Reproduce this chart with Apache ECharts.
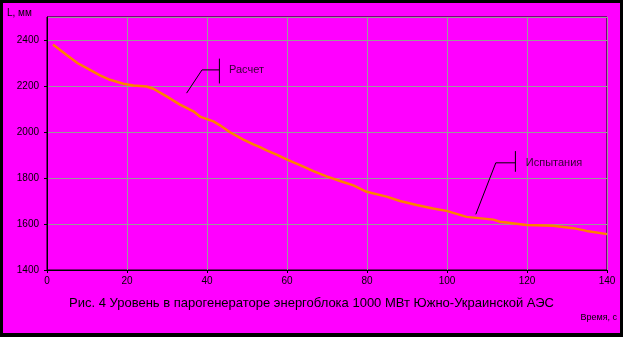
<!DOCTYPE html>
<html><head><meta charset="utf-8">
<script src="https://cdn.jsdelivr.net/npm/echarts@6/dist/echarts.min.js"></script>
<style>html,body{margin:0;padding:0;background:#000;}#c{width:623px;height:337px;}</style>
</head><body><div id="c"></div>
<script>
// time, s
const times = [1.5, 4.9, 7.7, 10.75, 13.25, 15.75, 19.1, 21.6, 24.9, 26.6, 29.9, 33.25, 36.6, 38.25, 41.6, 43.25, 45.75, 49.1, 51.6, 53.25, 54.9, 57.4, 59.9, 63.25, 66.6, 69.9, 73.25, 76.6, 79.9, 84.9, 88.25, 92.4, 96.5, 99.9, 104.9, 111.6, 113.25, 119.9, 126.5, 131.6, 134.9, 140];
// level, mm
const levels = [2380, 2335, 2299, 2270, 2246, 2227, 2210, 2202, 2198, 2188, 2155, 2119, 2090, 2067, 2046, 2029, 1999, 1967, 1946, 1934, 1920, 1902, 1881, 1856, 1830, 1807, 1787, 1768, 1740, 1719, 1700, 1683, 1667, 1657, 1631, 1619, 1610, 1596, 1592, 1582, 1570, 1556];
const xTicks = [0, 20, 40, 60, 80, 100, 120, 140];
const yTicks = [1400, 1600, 1800, 2000, 2200, 2400];
const titleText = 'Рис. 4 Уровень в парогенераторе энергоблока 1000 МВт Южно-Украинской АЭС';
const xName = 'Время, с';
const yName = 'L, мм';
// annotation leaders in data coordinates
const leaderCalc = [[34.9, 2169], [38.75, 2270], [43.1, 2270]];
const barCalc = [[43.1, 2319], [43.1, 2211]];
const labelCalc = {name: 'Расчет', t: 45.5, v: 2270};
const leaderTest = [[107.2, 1642], [112.2, 1866], [117.1, 1866]];
const barTest = [[117.1, 1917], [117.1, 1827]];
const labelTest = {name: 'Испытания', t: 119.7, v: 1866};

const chart = echarts.init(document.getElementById('c'));
const font = 'Liberation Sans, Arial, sans-serif';
const black = '#000';
const leader = (pts) => ({type: 'line', data: pts, symbol: 'none', lineStyle: {color: black, width: 1}, silent: true, z: 4, animation: false});
chart.setOption({
  animation: false,
  backgroundColor: '#000',
  graphic: [
    {type: 'rect', shape: {x: 3, y: 3, width: 617, height: 330}, style: {fill: '#ff00ff'}, z: -10, silent: true},
    {type: 'text', left: 'center', top: 297, style: {text: titleText, fill: black, font: '13px ' + font}, z: 5},
    {type: 'text', right: 6, top: 313, style: {text: xName, fill: black, font: '9px ' + font}, z: 5},
    {type: 'text', left: 7, top: 8, style: {text: yName, fill: black, font: '10px ' + font}, z: 5}
  ],
  grid: {left: 47, top: 17, right: 16, bottom: 67, show: true, borderColor: black, borderWidth: 1, backgroundColor: 'transparent'},
  xAxis: {
    type: 'value', min: 0, max: 140, interval: 20,
    axisLine: {lineStyle: {color: black, width: 1}},
    axisTick: {show: true, length: 3, lineStyle: {color: black}},
    axisLabel: {color: black, fontSize: 10, fontFamily: font, margin: 6, formatter: v => xTicks.includes(v) ? String(v) : ''},
    splitLine: {show: true, lineStyle: {color: '#999999', width: 1}}
  },
  yAxis: {
    type: 'value', min: 1400, max: 2500, interval: 200,
    axisLine: {show: true, lineStyle: {color: black, width: 1}},
    axisTick: {show: true, length: 3, lineStyle: {color: black}},
    axisLabel: {color: black, fontSize: 10, fontFamily: font, margin: 8, showMaxLabel: false, formatter: v => yTicks.includes(v) ? String(v) : ''},
    splitLine: {show: true, lineStyle: {color: '#999999', width: 1}}
  },
  series: [
    {type: 'line', data: times.map((t, i) => [t, levels[i]]), symbol: 'none', lineStyle: {color: '#ff8000', width: 2.5}, z: 3},
    leader(leaderCalc), leader(barCalc), leader(leaderTest), leader(barTest),
    {type: 'scatter', symbolSize: 0, z: 5, data: [
      {value: [labelCalc.t, labelCalc.v], label: {show: true, formatter: labelCalc.name}},
      {value: [labelTest.t, labelTest.v], label: {show: true, formatter: labelTest.name}}
    ], label: {position: 'right', distance: 0, color: black, fontSize: 11, fontFamily: font}}
  ]
});
</script></body></html>
